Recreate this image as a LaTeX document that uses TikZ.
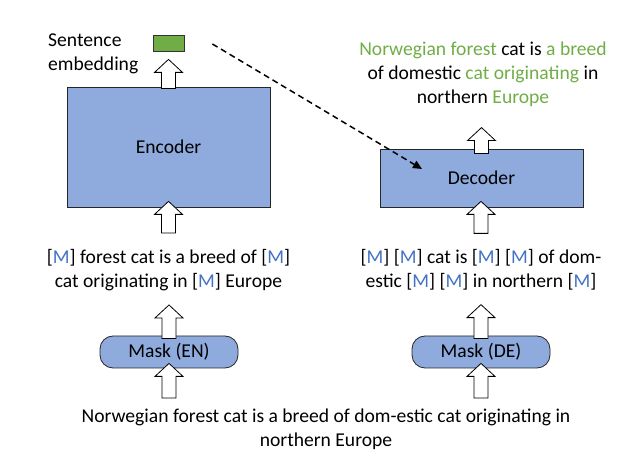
\documentclass[tikz,border=0pt]{standalone}
\usepackage{fontspec}
\setmainfont{Carlito}
\usetikzlibrary{calc,arrows.meta}

\definecolor{boxblue}{HTML}{8FAADC}
\definecolor{embgreen}{HTML}{70AD47}
\definecolor{mblue}{HTML}{4472C4}
\definecolor{tgreen}{HTML}{70AD47}

\newcommand{\mtok}{[{\color{mblue}M}]}
\newcommand{\blockup}[2]{%
  \draw[fill=white,line width=0.8pt,line join=miter] let \p1=#1, \p2=#2 in
    (\x1-7pt,\y1) -- (\x1-7pt,\y2-13pt) -- (\x1-14pt,\y2-13pt) -- (\x1,\y2)
    -- (\x1+14pt,\y2-13pt) -- (\x1+7pt,\y2-13pt) -- (\x1+7pt,\y1) -- cycle;}

\tikzset{
  model/.style={draw=black!85,fill=boxblue,line width=0.8pt},
  maskbox/.style={draw=black!85,fill=boxblue,rounded corners=13pt,
    minimum width=138pt,minimum height=32pt,line width=0.8pt},
  txt/.style={align=center,inner sep=0pt}
}

\begin{document}
\begin{tikzpicture}[x=1pt,y=1pt,font=\fontsize{19.6}{24}\selectfont]
\useasboundingbox (0,0) rectangle (625,-457);

\node[txt,align=left,anchor=west] (embtxt) at (48,-54) {Sentence\\embedding};
\node[draw=black!80,fill=embgreen,minimum width=31pt,minimum height=16pt,inner sep=0pt,line width=0.8pt] (emb) at (168.5,-43) {};
\node[model,minimum width=203pt,minimum height=120pt] (enc) at (168.5,-147) {Encoder};
\node[txt] (enin) at (168.5,-270) {\mtok{} forest cat is a breed of \mtok\\cat originating in \mtok{} Europe};
\node[maskbox] (men) at (169,-352) {Mask (EN)};

\node[txt] (out) at (483,-74) {{\color{tgreen}Norwegian forest} cat is {\color{tgreen}a breed}\\of domestic {\color{tgreen}cat originating} in\\northern {\color{tgreen}Europe}};
\node[model,minimum width=203pt,minimum height=58pt] (dec) at (481.5,-178) {Decoder};
\node[txt] (dein) at (481,-270) {\mtok{} \mtok{} cat is \mtok{} \mtok{} of dom-\\estic \mtok{} \mtok{} in northern \mtok};
\node[maskbox] (mde) at (481,-352) {Mask (DE)};

\node[txt] (src) at (326,-429.5) {Norwegian forest cat is a breed of dom-estic cat originating in\\northern Europe};

\blockup{([yshift=-2pt]enc.north)}{([yshift=-8pt]emb.south)}
\blockup{([yshift=16pt]enin.north)}{([yshift=6pt]enc.south)}
\blockup{([yshift=-3pt]men.north)}{([yshift=-14pt]enin.south)}
\blockup{([yshift=11pt]src.north-|men.south)}{([yshift=5pt]men.south)}

\blockup{([yshift=-5pt]dec.north)}{([yshift=-21pt]out.south)}
\blockup{([yshift=16pt]dein.north)}{([yshift=6pt]dec.south)}
\blockup{([yshift=-3pt]mde.north)}{([yshift=-14pt]dein.south)}
\blockup{([yshift=11pt]src.north-|mde.south)}{([yshift=5pt]mde.south)}

\coordinate (dfrom) at ([xshift=28pt,yshift=-1pt]emb.east);
\coordinate (dto) at ([xshift=-59.5pt,yshift=9pt]dec.center);
\draw[dashed,line width=1.5pt,dash pattern=on 6pt off 4pt,-{Triangle[length=9pt,width=8pt]}] (dfrom) -- (dto);
\end{tikzpicture}
\end{document}
